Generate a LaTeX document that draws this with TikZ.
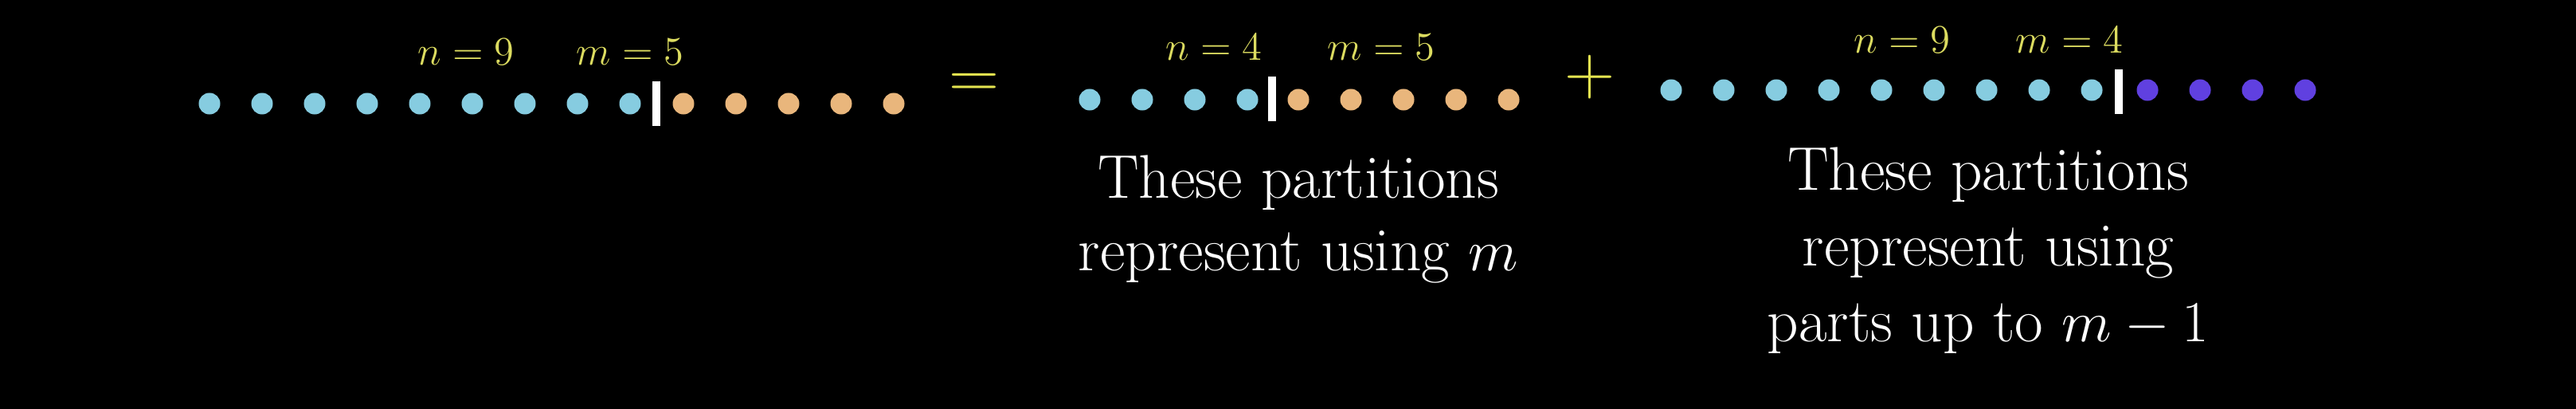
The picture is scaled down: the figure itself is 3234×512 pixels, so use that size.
\documentclass[tikz,border=0pt]{standalone}
\definecolor{dotblue}{HTML}{86CCE0}
\definecolor{dotorange}{HTML}{E9B67C}
\definecolor{dotpurple}{HTML}{6040E0}
\definecolor{lblyellow}{HTML}{DCDC60}
\definecolor{opyellow}{HTML}{E4E450}
\begin{document}
\begin{tikzpicture}[x=0.01cm,y=-0.01cm,
  dot/.style={circle,inner sep=0pt,minimum size=0.27cm},
  barmark/.style={rectangle,fill=white,inner sep=0pt,minimum width=0.1cm,minimum height=0.55cm},
  lbl/.style={text=lblyellow,anchor=base,inner sep=0pt,font=\fontsize{13.3}{16}\selectfont},
  op/.style={text=opyellow,anchor=base,inner sep=0pt,font=\fontsize{24}{28}\selectfont},
  txt/.style={text=white,align=center,anchor=north,inner sep=0pt,font=\fontsize{22}{26}\selectfont}]
\useasboundingbox (0,0) rectangle (3234,512);
\fill[black] (-10,-10) rectangle (3244,522);
% row 1
\foreach \i in {0,...,8} \node[dot,fill=dotblue] (a\i) at ({263+66*\i},130) {};
\node[barmark] (abar) at (824,130) {};
\foreach \i in {0,...,4} \node[dot,fill=dotorange] (ao\i) at ({858+66*\i},130) {};
\node[lbl] (an) at (585,81) {$n=9$};
\node[lbl] (am) at (791,81) {$m=5$};
% equals
\node[op] (eq) at (1223,123.5) {$=$};
% row 2
\foreach \i in {0,...,3} \node[dot,fill=dotblue] (b\i) at ({1368+66*\i},125) {};
\node[barmark] (bbar) at (1597,124) {};
\foreach \i in {0,...,4} \node[dot,fill=dotorange] (bo\i) at ({1630+66*\i},125) {};
\node[lbl] (bn) at (1524,75) {$n=4$};
\node[lbl] (bm) at (1734,75) {$m=5$};
\node[txt] (t1) at (1630,194) {These partitions\\represent using $m$};
% plus
\node[op] (pl) at (1996,118) {$+$};
% row 3
\foreach \i in {0,...,8} \node[dot,fill=dotblue] (c\i) at ({2098+66*\i},113) {};
\node[barmark] (cbar) at (2660,115) {};
\foreach \i in {0,...,3} \node[dot,fill=dotpurple] (cp\i) at ({2696+66*\i},113) {};
\node[lbl] (cn) at (2388,67) {$n=9$};
\node[lbl] (cm) at (2598,67) {$m=4$};
\node[txt,font=\fontsize{22}{27}\selectfont] (t2) at (2496,184) {These partitions\\represent using\\parts up to $m-1$};
\end{tikzpicture}
\end{document}
